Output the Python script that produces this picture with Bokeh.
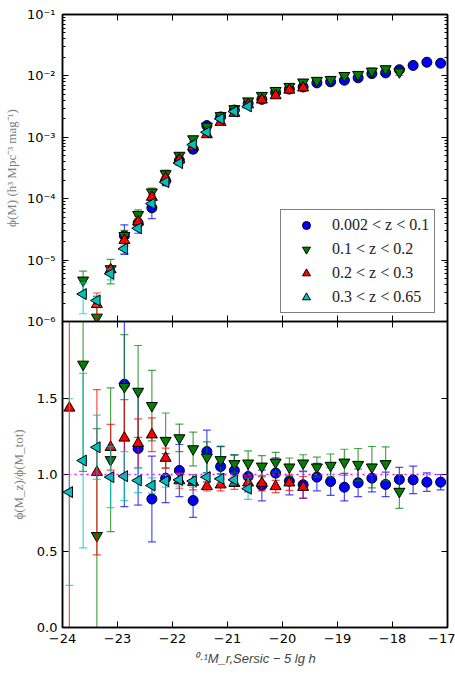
import numpy as np
from bokeh.plotting import figure
from bokeh.models import (Range1d, LinearAxis, LogAxis, FixedTicker, LogTicker,
                          CustomJSTickFormatter, Span, Legend, LegendItem, ColumnDataSource)
from bokeh.layouts import column
from bokeh.embed import file_html
from bokeh.resources import INLINE

nan = float("nan")

# ---------------- data ----------------
mag_bins = [-23.875, -23.625, -23.375, -23.125, -22.875, -22.625, -22.375, -22.125,
            -21.875, -21.625, -21.375, -21.125, -20.875, -20.625, -20.375, -20.125,
            -19.875, -19.625, -19.375, -19.125, -18.875, -18.625, -18.375, -18.125,
            -17.875, -17.625, -17.375, -17.125]

series_labels = ["0.002 < z < 0.1", "0.1 < z < 0.2", "0.2 < z < 0.3", "0.3 < z < 0.65"]

# luminosity function phi(M) per redshift slice
phi_z1 = [nan, nan, nan, nan, 2.5e-5, 4.0e-5, 7.1e-5, 1.95e-4, 4.2e-4, 6.4e-4, 1.55e-3, 2.15e-3,
          2.78e-3, 3.55e-3, 4.15e-3, 5.35e-3, 6.1e-3, 6.6e-3, 7.7e-3, 8.0e-3, 8.5e-3, 9.3e-3,
          1.09e-2, 1.12e-2, 1.26e-2, 1.48e-2, 1.67e-2, 1.61e-2]
phi_z2 = [nan, 4.7e-6, 1.17e-6, 7.2e-6, 2.5e-5, 5.5e-5, 1.28e-4, 2.54e-4, 5.06e-4, 9.4e-4,
          1.51e-3, 2.24e-3, 2.91e-3, 3.89e-3, 4.78e-3, 5.75e-3, 6.7e-3, 7.9e-3, 8.4e-3, 8.7e-3,
          1.01e-2, 1.05e-2, 1.19e-2, 1.30e-2, 1.16e-2, nan, nan, nan]
phi_z3 = [4e-7, nan, 1.9e-6, 7.0e-6, 2.1e-5, 4.2e-5, 1.06e-4, 2.16e-4, 4.3e-4, 7.0e-4,
          1.11e-3, 1.76e-3, 2.47e-3, 3.4e-3, 4.07e-3, 4.78e-3, 5.9e-3, 6.4e-3,
          nan, nan, nan, nan, nan, nan, nan, nan, nan, nan]
phi_z4 = [5e-7, 2.8e-6, 2.2e-6, 6.0e-6, 1.53e-5, 3.3e-5, 8.3e-5, 1.86e-4, 3.8e-4, 7.6e-4,
          1.21e-3, 2.0e-3, 2.63e-3, 3.18e-3,
          nan, nan, nan, nan, nan, nan, nan, nan, nan, nan, nan, nan, nan, nan]

# ratio phi(M_z)/phi(M_tot) and its error
ratio_z1 = [nan, nan, nan, nan, 1.59, 1.17, 0.84, 0.976, 1.026, 0.83, 1.15, 1.052, 1.026, 0.987,
            0.928, 1.009, 0.957, 0.933, 0.983, 0.954, 0.917, 0.946, 0.976, 0.935, 0.967, 0.965,
            0.95, 0.95]
rerr_z1 = [nan, nan, nan, nan, 0.8, 0.37, 0.28, 0.16, 0.17, 0.11, 0.14, 0.13, 0.1, 0.1, 0.1, 0.1,
           0.09, 0.09, 0.09, 0.09, 0.09, 0.09, 0.09, 0.08, 0.08, 0.09, 0.06, 0.05]
ratio_z2 = [nan, 1.72, 0.60, 1.096, 1.574, 1.543, 1.45, 1.222, 1.239, 1.167, 1.113, 1.096, 1.07,
            1.074, 1.054, 1.08, 1.048, 1.074, 1.048, 1.059, 1.08, 1.065, 1.048, 1.07, 0.889,
            nan, nan, nan]
rerr_z2 = [nan, 0.7, 0.7, 0.47, 0.34, 0.3, 0.23, 0.18, 0.09, 0.11, 0.1, 0.09, 0.06, 0.08, 0.07,
           0.065, 0.06, 0.055, 0.065, 0.075, 0.085, 0.105, 0.135, 0.11, 0.11, nan, nan, nan]
ratio_z3 = [1.435, nan, 1.015, 1.178, 1.239, 1.204, 1.26, 1.107, 0.96, 0.95, 0.922, 0.933, 0.943,
            0.946, 0.943, 0.922, 0.946, 0.917, nan, nan, nan, nan, nan, nan, nan, nan, nan, nan]
rerr_z3 = [1.5, nan, 0.54, 0.15, 0.25, 0.16, 0.11, 0.065, 0.05, 0.05, 0.03, 0.04, 0.04, 0.04,
           0.05, 0.04, 0.05, 0.07, nan, nan, nan, nan, nan, nan, nan, nan, nan, nan]
ratio_z4 = [0.885, 1.091, 1.178, 0.983, 0.989, 0.961, 0.928, 0.957, 0.965, 0.957, 0.983, 0.972,
            0.965, 0.907, nan, nan, nan, nan, nan, nan, nan, nan, nan, nan, nan, nan, nan, nan]
rerr_z4 = [0.61, 0.57, 0.21, 0.2, 0.16, 0.08, 0.05, 0.04, 0.04, 0.04, 0.03, 0.03, 0.03, 0.07,
           nan, nan, nan, nan, nan, nan, nan, nan, nan, nan, nan, nan, nan, nan]

x_ticks = [-24, -23, -22, -21, -20, -19, -18, -17]
ratio_ticks = [0.0, 0.5, 1.0, 1.5]
ref_level = 1.0

# ---------------- styles ----------------
colors = ["#0000ff", "#007f00", "#ff0000", "#00bfbf"]
markers = ["circle", "inverted_triangle", "triangle", "triangle"]
angles = [0.0, 0.0, 0.0, np.pi / 2]
msizes = [10, 11, 11, 11]

TICK_FONT = "DejaVu Sans"
LABEL_FONT = "Liberation Serif"

x_range = Range1d(-24, -17)

top = figure(frame_width=385, frame_height=307, x_range=x_range,
             y_range=Range1d(1e-6, 1e-1), y_axis_type="log",
             output_backend="svg", toolbar_location=None,
             min_border_left=58, min_border_right=12, min_border_top=14, min_border_bottom=10)
bot = figure(frame_width=385, frame_height=306, x_range=x_range, y_range=Range1d(0, 2),
             output_backend="svg", toolbar_location=None,
             min_border_left=58, min_border_right=12, min_border_top=0, min_border_bottom=52,
             margin=(-10, 0, 0, 0))
bot.border_fill_alpha = 0.0

for f in (top, bot):
    f.grid.visible = False
    f.outline_line_color = "black"
    f.outline_line_width = 1.5

log_fmt = CustomJSTickFormatter(code="""
const e = Math.round(Math.log10(tick));
const m = {'-':'\u207b','0':'\u2070','1':'\u00b9','2':'\u00b2','3':'\u00b3','4':'\u2074',
           '5':'\u2075','6':'\u2076','7':'\u2077','8':'\u2078','9':'\u2079'};
return '10' + String(e).split('').map(c => m[c]).join('');
""")
x_fmt = CustomJSTickFormatter(code="return tick.toFixed(0).replace('-', '\u2212');")
r_fmt = CustomJSTickFormatter(code="return tick.toFixed(1);")


def style_axis(ax, labels=True, minor=False):
    ax.axis_line_color = "black"
    ax.axis_line_width = 1.5
    ax.major_tick_in = 6
    ax.major_tick_out = 0
    ax.major_tick_line_color = "black"
    ax.major_tick_line_width = 1
    if minor:
        ax.minor_tick_in = 3
        ax.minor_tick_out = 0
        ax.minor_tick_line_color = "black"
    else:
        ax.minor_tick_line_color = None
    if labels:
        ax.major_label_text_font = TICK_FONT
        ax.major_label_text_font_size = "13px"
        ax.major_label_text_color = "black"
    else:
        ax.formatter = CustomJSTickFormatter(code="return '';")
        ax.major_label_text_font_size = "1px"
        ax.major_label_standoff = 0


# ---- top panel axes ----
style_axis(top.xaxis[0], labels=False)
top.xaxis[0].ticker = FixedTicker(ticks=x_ticks)
style_axis(top.yaxis[0], labels=True, minor=True)
top.yaxis[0].ticker = LogTicker(num_minor_ticks=10)
top.yaxis[0].formatter = log_fmt
top.yaxis[0].major_label_standoff = 7
top.yaxis[0].axis_label = "\u03d5(M) (h\u00b3 Mpc\u207b\u00b3 mag\u207b\u00b9)"

ax_top = LinearAxis(ticker=FixedTicker(ticks=x_ticks))
style_axis(ax_top, labels=False)
top.add_layout(ax_top, "above")
ax_right = LogAxis(ticker=LogTicker(num_minor_ticks=10))
style_axis(ax_right, labels=False, minor=True)
top.add_layout(ax_right, "right")

# ---- bottom panel axes ----
style_axis(bot.xaxis[0], labels=True)
bot.xaxis[0].ticker = FixedTicker(ticks=x_ticks)
bot.xaxis[0].formatter = x_fmt
bot.xaxis[0].major_label_standoff = 6
bot.xaxis[0].axis_label = "\u2070\u00b7\u00b9M_r,Sersic \u2212 5 lg h"
style_axis(bot.yaxis[0], labels=True)
bot.yaxis[0].ticker = FixedTicker(ticks=ratio_ticks)
bot.yaxis[0].formatter = r_fmt
bot.yaxis[0].major_label_standoff = 5
bot.yaxis[0].axis_label = "\u03d5(M_z)/\u03d5(M_tot)"

bx_top = LinearAxis(ticker=FixedTicker(ticks=x_ticks))
style_axis(bx_top, labels=False)
bot.add_layout(bx_top, "above")
bx_right = LinearAxis(ticker=FixedTicker(ticks=ratio_ticks))
style_axis(bx_right, labels=False)
bot.add_layout(bx_right, "right")

for ax in (top.yaxis[0], bot.yaxis[0], bot.xaxis[0]):
    ax.axis_label_text_font = LABEL_FONT
    ax.axis_label_text_font_style = "normal"
    ax.axis_label_text_font_size = "13px"
    ax.axis_label_text_color = "#808080"
top.yaxis[0].axis_label_standoff = 5
bot.yaxis[0].axis_label_standoff = 8
bot.xaxis[0].axis_label_standoff = 8

bot.add_layout(Span(location=ref_level, dimension="width", line_color="#ff00ff",
                    line_dash="dotted", line_width=1.5))

# ---- data series ----
phis = [phi_z1, phi_z2, phi_z3, phi_z4]
ratios = [ratio_z1, ratio_z2, ratio_z3, ratio_z4]
rerrs = [rerr_z1, rerr_z2, rerr_z3, rerr_z4]
x = np.array(mag_bins, dtype=float)

legend_items = []
for i in range(4):
    phi = np.array(phis[i], dtype=float)
    r = np.array(ratios[i], dtype=float)
    e = np.array(rerrs[i], dtype=float)
    frac = e / r
    phi_hi = phi * (1 + frac)
    phi_lo = np.maximum(phi * (1 - frac), phi * 1e-2)
    src = ColumnDataSource(dict(x=x, phi=phi, phi_hi=phi_hi, phi_lo=phi_lo,
                                r=r, r_hi=r + e, r_lo=r - e))
    c = colors[i]
    # top panel error bars + markers
    top.segment(x0="x", y0="phi_lo", x1="x", y1="phi_hi", source=src, line_color=c,
                line_alpha=0.7, line_width=1.2)
    top.scatter(x="x", y="phi_hi", source=src, marker="dash", size=8, line_color=c,
                line_alpha=0.7, line_width=1.2)
    top.scatter(x="x", y="phi_lo", source=src, marker="dash", size=8, line_color=c,
                line_alpha=0.7, line_width=1.2)
    rr = top.scatter(x="x", y="phi", source=src, marker=markers[i], angle=angles[i],
                     size=msizes[i], fill_color=c, line_color="black", line_width=1)
    legend_items.append(LegendItem(label=series_labels[i], renderers=[rr]))
    # bottom panel error bars + markers
    bot.segment(x0="x", y0="r_lo", x1="x", y1="r_hi", source=src, line_color=c,
                line_alpha=0.7, line_width=1.2)
    bot.scatter(x="x", y="r_hi", source=src, marker="dash", size=8, line_color=c,
                line_alpha=0.7, line_width=1.2)
    bot.scatter(x="x", y="r_lo", source=src, marker="dash", size=8, line_color=c,
                line_alpha=0.7, line_width=1.2)
    bot.scatter(x="x", y="r", source=src, marker=markers[i], angle=angles[i],
                size=msizes[i], fill_color=c, line_color="black", line_width=1)

legend = Legend(items=legend_items, location=(218, 8))
legend.label_text_font = LABEL_FONT
legend.label_text_font_size = "16px"
legend.label_text_color = "#222222"
legend.glyph_width = 40
legend.glyph_height = 20
legend.spacing = 4
legend.padding = 5
legend.margin = 0
legend.label_standoff = 6
legend.border_line_color = "black"
legend.border_line_width = 1.5
legend.background_fill_alpha = 1.0
top.add_layout(legend)

layout = column(top, bot, spacing=0)
open("out.html", "w").write(file_html(layout, INLINE))
